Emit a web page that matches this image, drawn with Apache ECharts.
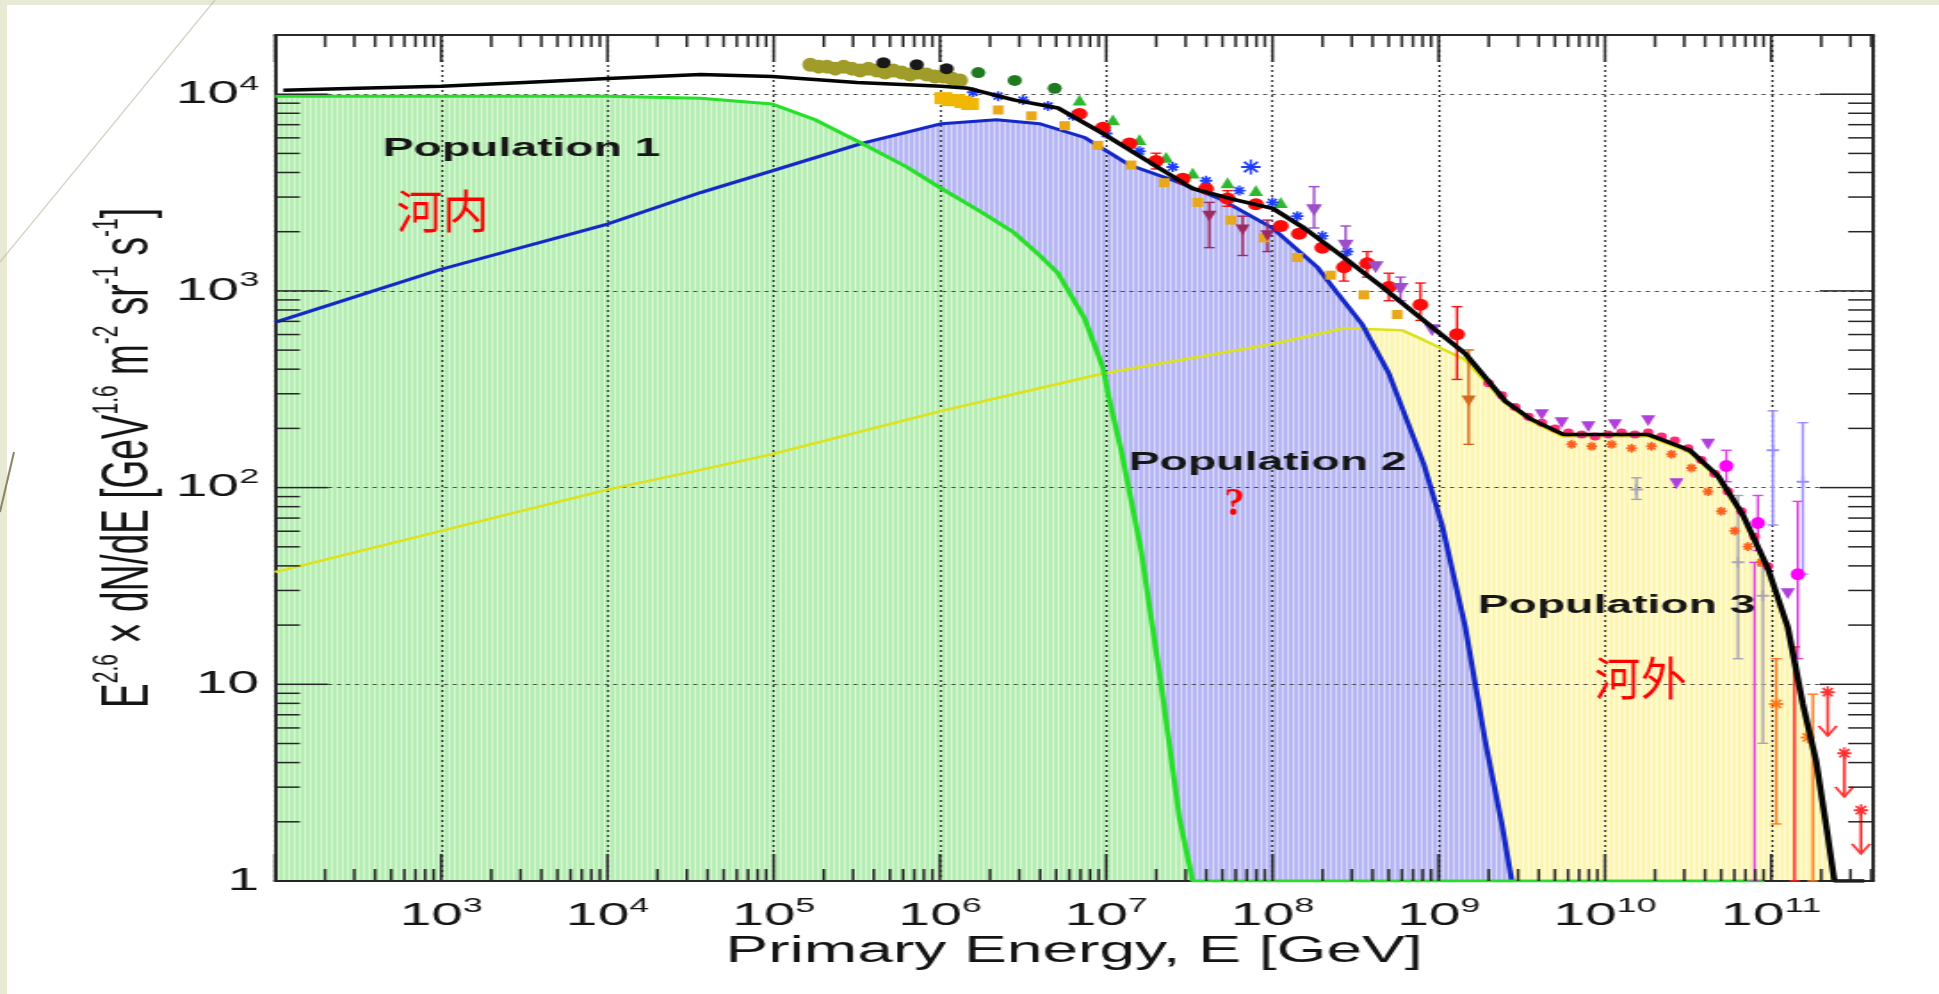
<!DOCTYPE html>
<html>
<head>
<meta charset="utf-8">
<title>Cosmic ray populations</title>
<script src="https://cdn.jsdelivr.net/npm/echarts@6.0.0/dist/echarts.min.js"></script>
<style>
  html, body { margin: 0; padding: 0; background: #e8ead5; overflow: hidden; }
  #sheet { position: absolute; left: 7px; top: 5px; width: 1932px; height: 989px; background: #fff; overflow: hidden; }
  /* the source figure is stretched sideways, so the chart is drawn narrow and widened */
  #chart { position: absolute; left: 0; top: 0; width: 1085px; height: 989px; transform: scaleX(1.7806); transform-origin: 0 0; }
  #deco { position: absolute; left: 0; top: 0; pointer-events: none; }
</style>
</head>
<body>
<div id="sheet"><div id="chart"></div></div>
<svg id="deco" width="1939" height="994">
  <line x1="215" y1="0" x2="0" y2="262" stroke="#b9b59c" stroke-width="1.5" opacity="0.55"/>
  <line x1="14" y1="452" x2="0" y2="512" stroke="#8c8464" stroke-width="2"/>
</svg>
<script>
// ---- data as log10(E / GeV) and log10(flux) ----
var pop1LogE = [2.0, 3.0, 4.0, 4.56, 4.99, 5.25, 5.53, 5.8, 6.01, 6.25, 6.44, 6.6, 6.71, 6.87, 6.98, 7.02, 7.09, 7.21, 7.33, 7.44, 7.52, 8.5, 9.5, 10.96];
var pop1LogF = [3.99, 3.99, 3.99, 3.98, 3.95, 3.87, 3.75, 3.63, 3.52, 3.40, 3.30, 3.18, 3.09, 2.86, 2.61, 2.44, 2.19, 1.68, 1.00, 0.32, 0.0, 0.0, 0.0, 0.0];

var pop2LogE = [2.0, 3.0, 4.0, 4.56, 4.99, 5.53, 6.01, 6.34, 6.60, 6.87, 7.14, 7.41, 7.68, 8.0, 8.27, 8.38, 8.54, 8.70, 8.91, 9.02, 9.16, 9.28, 9.38, 9.44];
var pop2LogF = [2.84, 3.11, 3.34, 3.50, 3.61, 3.75, 3.85, 3.87, 3.85, 3.78, 3.64, 3.56, 3.47, 3.32, 3.12, 3.0, 2.83, 2.58, 2.12, 1.81, 1.29, 0.71, 0.29, 0.0];

var pop3LogE = [2.0, 3.0, 4.0, 4.56, 4.99, 6.01, 6.98, 8.0, 8.43, 8.78, 8.91, 9.16, 9.40, 9.55, 9.75, 10.02, 10.26, 10.51, 10.68, 10.83, 10.98, 11.10, 11.19, 11.27, 11.34, 11.38];
var pop3LogF = [1.57, 1.78, 1.99, 2.09, 2.17, 2.39, 2.58, 2.73, 2.81, 2.80, 2.75, 2.65, 2.43, 2.34, 2.26, 2.26, 2.26, 2.18, 2.05, 1.85, 1.58, 1.28, 0.89, 0.60, 0.22, 0.0];

var totalLogE = [2.05, 2.5, 3.0, 3.5, 4.0, 4.56, 4.99, 5.5, 6.01, 6.17, 6.45, 6.71, 6.98, 7.25, 7.52, 7.79, 8.0, 8.19, 8.43, 8.66, 8.91, 9.16, 9.40, 9.55, 9.75, 10.02, 10.26, 10.51, 10.68, 10.83, 10.98, 11.10, 11.19, 11.27, 11.34, 11.38, 11.56];
var totalLogF = [4.02, 4.03, 4.04, 4.06, 4.08, 4.10, 4.09, 4.06, 4.04, 4.03, 3.97, 3.93, 3.80, 3.66, 3.52, 3.46, 3.42, 3.32, 3.17, 3.02, 2.85, 2.68, 2.44, 2.35, 2.27, 2.27, 2.27, 2.19, 2.06, 1.86, 1.59, 1.29, 0.90, 0.61, 0.23, 0.0, 0.0];

// measurements [log E, log F]
var oliveBand = [[5.22,4.15],[5.27,4.14],[5.32,4.14],[5.37,4.13],[5.42,4.14],[5.47,4.13],[5.52,4.12],[5.57,4.13],[5.62,4.12],[5.67,4.11],[5.72,4.12],[5.77,4.11],[5.82,4.10],[5.87,4.11],[5.92,4.10],[5.97,4.09],[6.02,4.09],[6.07,4.08],[6.12,4.07]];
var blackDots = [[5.66,4.16],[5.86,4.15],[6.04,4.13]];
var darkGreenDots = [[6.23,4.11],[6.45,4.07],[6.69,4.03]];
var goldBand = [[6.02,3.98],[6.06,3.97],[6.10,3.97],[6.14,3.96],[6.18,3.95]];
var orangeSquares = [[6.35,3.92],[6.55,3.89],[6.75,3.84],[6.95,3.74],[7.15,3.64],[7.35,3.55],[7.55,3.45],[7.75,3.36],[7.95,3.27],[8.15,3.17],[8.35,3.08],[8.55,2.98],[8.75,2.88]];
var greenTriangles = [[6.84,3.97],[7.04,3.87],[7.20,3.77],[7.36,3.68],[7.52,3.60],[7.73,3.55],[7.90,3.51],[8.05,3.45]];
var blueStars = [[6.2,4.01],[6.35,3.99],[6.5,3.97],[6.65,3.94],[6.8,3.89],[7.0,3.80],[7.2,3.71],[7.4,3.63],[7.6,3.56],[7.8,3.51],[8.0,3.45],[8.15,3.38],[8.3,3.28],[8.45,3.20]];
var blueBigStar = [[7.87,3.63]];
var redCircles = [[6.84,3.90],[6.98,3.83],[7.14,3.75],[7.30,3.66],[7.46,3.57],[7.60,3.52],[7.73,3.47],[7.90,3.44],[8.05,3.33],[8.16,3.29],[8.30,3.22],[8.43,3.12],[8.57,3.14],[8.70,3.02],[8.89,2.93],[9.11,2.78]];
var purpleDown = [[8.25,3.41],[8.44,3.23],[8.62,3.12],[8.77,3.01],[8.96,2.80]];
var maroonTri = [[7.62,3.38],[7.82,3.31],[7.97,3.28]];
var brownDown = [[9.18,2.44]];
var pinkPlateau = [[9.30,2.53],[9.38,2.47],[9.46,2.41],[9.54,2.36],[9.62,2.33],[9.70,2.30],[9.78,2.28],[9.86,2.27],[9.94,2.26],[10.02,2.27],[10.10,2.28],[10.18,2.27],[10.26,2.28],[10.34,2.26],[10.42,2.24],[10.50,2.20],[10.58,2.14],[10.66,2.07],[10.74,1.98],[10.82,1.88],[10.90,1.75],[10.98,1.60]];
var orangePlateau = [[9.80,2.22],[9.92,2.21],[10.04,2.22],[10.16,2.20],[10.28,2.21],[10.40,2.17],[10.52,2.10],[10.62,1.98],[10.70,1.88],[10.78,1.78],[10.86,1.70],[10.94,1.62]];
var violetTri = [[9.62,2.37],[9.74,2.33],[9.90,2.31],[10.06,2.32],[10.26,2.34],[10.43,2.02],[10.62,2.22],[11.10,1.46]];
var magentaDots = [[10.73,2.11],[10.92,1.82],[11.16,1.56]];
var lilacCross = [[11.01,2.19],[11.19,2.03]];
var greyCross = [[10.19,1.99],[10.80,1.62],[10.95,1.45]];
var orangeStars = [[11.03,0.90],[11.22,0.73]];
var upperLimits = [[11.34,0.96],[11.44,0.65],[11.54,0.36]];

// error bars [log E, log low, log high]
var redErr = [[7.30,3.62,3.70],[7.73,3.43,3.51],[8.43,3.05,3.18],[8.57,3.07,3.20],[8.70,2.95,3.09],[8.89,2.85,3.04],[9.11,2.55,2.92]];
var purpleErr = [[8.25,3.32,3.53],[8.44,3.15,3.33],[8.77,2.95,3.07]];
var maroonErr = [[7.62,3.22,3.45],[7.82,3.18,3.38],[7.97,3.20,3.36]];
var brownErr = [[9.18,2.22,2.70]];
var magentaErr = [[10.73,2.03,2.19],[10.92,1.68,1.96],[11.16,1.13,1.93],[10.90,0.0,1.62]];
var lilacErr = [[11.01,1.81,2.39],[11.19,1.56,2.33]];
var greyErr = [[10.19,1.94,2.05],[10.80,1.13,1.96],[10.95,0.70,1.60]];
var orangeErr = [[11.03,0.29,1.13],[11.25,0.0,0.95]];
var redLongErr = [[11.14,0.0,1.19]];

// axes
var xMin = 1e2, xMax = 4.1e11, yMin = 1, yMax = 2e4;
var xMajor = [1e2, 1e3, 1e4, 1e5, 1e6, 1e7, 1e8, 1e9, 1e10, 1e11];
var xLabels = [1e3, 1e4, 1e5, 1e6, 1e7, 1e8, 1e9, 1e10, 1e11];
var yMajor = [1, 10, 100, 1000, 10000];
var yLabels = [1, 10, 100, 1000, 10000];

var S = 1.7806;   // sideways stretch
var FONT = '"Liberation Sans", Arial, Helvetica, sans-serif';

function minorTicks(lo, hi) {
  var out = [];
  for (var d = Math.floor(Math.log10(lo)); d <= Math.ceil(Math.log10(hi)); d++) {
    for (var k = 2; k <= 9; k++) {
      var v = k * Math.pow(10, d);
      if (v > lo && v < hi) out.push(v);
    }
  }
  return out;
}
var xMinor = minorTicks(xMin, xMax);
var yMinor = minorTicks(yMin, yMax);

var p10 = function (v) { return Math.pow(10, v); };
function curve(le, lf) { return le.map(function (e, i) { return [p10(e), p10(lf[i])]; }); }
function pts(a) { return a.map(function (p) { return [p10(p[0]), p10(p[1])]; }); }
function bars(a) { return a.map(function (p) { return [p10(p[0]), p10(p[1]), p10(p[2])]; }); }

function stripe(base, light) {
  var c = document.createElement('canvas');
  c.width = 3; c.height = 2;
  var g = c.getContext('2d');
  g.fillStyle = base; g.fillRect(0, 0, 3, 2);
  g.fillStyle = light; g.fillRect(2, 0, 1, 2);
  return { image: c, repeat: 'repeat' };
}

var supRich = {
  b: { fontSize: 32, lineHeight: 40, color: '#141414', fontFamily: FONT },
  e: { fontSize: 20, lineHeight: 16, verticalAlign: 'top', color: '#141414', fontFamily: FONT }
};
function xFmt(v) { return '{b|10}{e|' + Math.round(Math.log10(v)) + '}'; }
function yFmt(v) { return v < 50 ? '{b|' + Math.round(v) + '}' : '{b|10}{e|' + Math.round(Math.log10(v)) + '}'; }

function frame() { return { show: true, onZero: false, lineStyle: { color: '#2a2a2a', width: 2 } }; }

function xAxis(pos, main) {
  return {
    type: 'log', logBase: 10, min: xMin, max: xMax, position: pos, z: 3,
    axisLine: frame(),
    axisTick: { show: false },
    minorTick: { show: false },
    axisLabel: main ? { show: true, customValues: xLabels, margin: 15, formatter: xFmt, rich: supRich } : { show: false },
    splitLine: main ? { show: true, lineStyle: { type: [2, 3], color: '#333', width: 1.2 } } : { show: false },
    name: main ? 'Primary Energy, E [GeV]' : '',
    nameLocation: 'middle', nameGap: 53, nameMoveOverlap: false,
    nameTextStyle: { fontSize: 36, color: '#141414', fontFamily: FONT }
  };
}
function yAxis(pos, main) {
  return {
    type: 'log', logBase: 10, min: yMin, max: yMax, position: pos, z: 3,
    axisLine: frame(),
    axisTick: { show: false },
    minorTick: { show: false },
    axisLabel: main ? { show: true, customValues: yLabels, margin: 9, formatter: yFmt, rich: supRich } : { show: false },
    splitLine: main ? { show: true, lineStyle: { type: [2, 3], color: '#333', width: 1.2 } } : { show: false },
    name: main ? '{n|E}{s|2.6}{n| × dN/dE [GeV}{s|1.6}{n| m}{s|-2}{n| sr}{s|-1}{n| s}{s|-1}{n|]}' : '',
    nameLocation: 'middle', nameRotate: 90, nameGap: 59, nameMoveOverlap: false,
    nameTextStyle: {
      color: '#141414',
      rich: {
        n: { fontSize: 37, lineHeight: 46, color: '#141414', fontFamily: FONT },
        s: { fontSize: 21, lineHeight: 18, verticalAlign: 'top', color: '#141414', fontFamily: FONT }
      }
    }
  };
}

function area(le, lf, base, light) {
  return { type: 'line', data: curve(le, lf), symbol: 'none', silent: true, z: 1,
    lineStyle: { width: 0 }, areaStyle: { color: stripe(base, light), opacity: 1, origin: 'start' } };
}
function line(le, lf, color, w, z) {
  return { type: 'line', data: curve(le, lf), symbol: 'none', silent: true, z: z || 4,
    lineStyle: { color: color, width: w } };
}
function dots(data, color, symbol, size, rot) {
  return { type: 'scatter', data: pts(data), symbol: symbol, symbolSize: size, symbolRotate: rot || 0, z: 6, silent: true,
    itemStyle: { color: color, opacity: 1 } };
}
function strokes(data, color, path, size) {
  return { type: 'scatter', data: pts(data), symbol: path, symbolSize: size, z: 6, silent: true,
    itemStyle: { color: 'rgba(0,0,0,0)', borderColor: color, borderWidth: 1.6, opacity: 1 } };
}
function errBars(data, color) {
  return {
    type: 'custom', data: bars(data), z: 5, silent: true, encode: { x: 0, y: [1, 2] },
    renderItem: function (params, api) {
      var a = api.coord([api.value(0), api.value(1)]);
      var b = api.coord([api.value(0), api.value(2)]);
      var st = { stroke: color, lineWidth: 1.4, fill: 'none' };
      return { type: 'group', children: [
        { type: 'line', shape: { x1: a[0], y1: a[1], x2: b[0], y2: b[1] }, style: st },
        { type: 'line', shape: { x1: a[0] - 3, y1: a[1], x2: a[0] + 3, y2: a[1] }, style: st },
        { type: 'line', shape: { x1: b[0] - 3, y1: b[1], x2: b[0] + 3, y2: b[1] }, style: st }
      ] };
    }
  };
}
function limits(data, color) {
  return {
    type: 'custom', data: pts(data), z: 5, silent: true, encode: { x: 0, y: 1 },
    renderItem: function (params, api) {
      var a = api.coord([api.value(0), api.value(1)]);
      var b = api.coord([api.value(0), api.value(1) * 0.6]);
      var st = { stroke: color, lineWidth: 1.6, fill: 'none' };
      return { type: 'group', children: [
        { type: 'line', shape: { x1: a[0], y1: a[1], x2: b[0], y2: b[1] }, style: st },
        { type: 'polyline', shape: { points: [[b[0] - 5, b[1] - 10], [b[0], b[1]], [b[0] + 5, b[1] - 10]] }, style: st }
      ] };
    }
  };
}

var STAR = 'path://M0,-10L0,10M-10,0L10,0M-7,-7L7,7M-7,7L7,-7';
var PLUS = 'path://M0,-10L0,10M-10,0L10,0';

var labels = [
  { type: 'text', x: 211, y: 144, z: 20, silent: true,
    style: { text: 'Population 1', fontSize: 26, fontWeight: 'bold', fontFamily: FONT, fill: '#161616', align: 'left', verticalAlign: 'middle' } },
  { type: 'text', x: 630, y: 458, z: 20, silent: true,
    style: { text: 'Population 2', fontSize: 26, fontWeight: 'bold', fontFamily: FONT, fill: '#161616', align: 'left', verticalAlign: 'middle' } },
  { type: 'text', x: 826, y: 601, z: 20, silent: true,
    style: { text: 'Population 3', fontSize: 26, fontWeight: 'bold', fontFamily: FONT, fill: '#161616', align: 'left', verticalAlign: 'middle' } },
  { type: 'text', x: 244.7, y: 206, scaleX: 1 / S, z: 20, silent: true,
    style: { text: '河内', fontSize: 46, fontFamily: '"Noto Sans CJK SC", sans-serif', fill: '#ff0000', align: 'center', verticalAlign: 'middle' } },
  { type: 'text', x: 917.4, y: 673, scaleX: 1 / S, z: 20, silent: true,
    style: { text: '河外', fontSize: 46, fontFamily: '"Noto Sans CJK SC", sans-serif', fill: '#ff0000', align: 'center', verticalAlign: 'middle' } },
  { type: 'text', x: 689.3, y: 500, scaleX: 1 / S, z: 20, silent: true,
    style: { text: '?', fontSize: 40, fontWeight: 'bold', fontFamily: '"Liberation Serif", "DejaVu Serif", serif', fill: '#ff0000', align: 'center', verticalAlign: 'middle' } }
];

var chart = echarts.init(document.getElementById('chart'), null, { renderer: 'canvas' });
chart.setOption({
  animation: false,
  backgroundColor: '#ffffff',
  grid: { left: 150.5, right: 37, top: 30, bottom: 113, containLabel: false, outerBoundsMode: 'none' },
  xAxis: [xAxis('bottom', true), xAxis('top', false)],
  yAxis: [yAxis('left', true), yAxis('right', false)],
  series: [
    area(pop3LogE, pop3LogF, '#fcf6b2', '#fffbd9'),
    area(pop2LogE, pop2LogF, '#b6b6f2', '#d8d8fa'),
    area(pop1LogE, pop1LogF, '#b5eeb2', '#d8f7d5'),
    line(pop3LogE, pop3LogF, '#dde21c', 2.5),
    line(pop2LogE, pop2LogF, '#1428c8', 3),
    line(pop1LogE, pop1LogF, '#26df29', 3),

    errBars(redErr, '#ff1010'),
    errBars(purpleErr, '#9b4dca'),
    errBars(maroonErr, '#a02860'),
    errBars(brownErr, '#d2691e'),
    errBars(magentaErr, '#e040e0'),
    errBars(lilacErr, '#9a8cff'),
    errBars(greyErr, '#a9a4b8'),
    errBars(orangeErr, '#ff7a1a'),
    errBars(redLongErr, '#ff2020'),
    limits(upperLimits, '#ff3030'),

    dots(oliveBand, '#a09c2a', 'circle', [9, 14]),
    dots(goldBand, '#f2b705', 'rect', [10, 12]),
    dots(orangeSquares, '#e8a81a', 'rect', [6, 9]),
    dots(blackDots, '#181818', 'circle', [8, 11]),
    dots(darkGreenDots, '#1f7a1f', 'circle', [8, 11]),
    dots(greenTriangles, '#2db82d', 'triangle', [8, 11]),
    strokes(blueStars, '#1f3dff', STAR, [7, 10]),
    strokes(blueBigStar, '#1f3dff', STAR, [11, 15]),
    dots(maroonTri, '#a02860', 'triangle', [8, 11], 180),
    dots(redCircles, '#ff0a0a', 'circle', [9, 12]),
    dots(purpleDown, '#9b4dca', 'triangle', [9, 12], 180),
    dots(brownDown, '#d2691e', 'triangle', [8, 11], 180),
    dots(pinkPlateau, '#ff2a7a', 'circle', [6, 8]),
    strokes(orangePlateau, '#ff6020', STAR, [6, 9]),
    dots(violetTri, '#b03fe0', 'triangle', [8, 11], 180),
    dots(magentaDots, '#ff00ff', 'circle', [8, 12]),
    strokes(lilacCross, '#9a8cff', PLUS, [7, 11]),
    strokes(greyCross, '#a9a4b8', PLUS, [7, 11]),
    strokes(orangeStars, '#ff7a1a', STAR, [8, 12]),
    strokes(upperLimits, '#ff3030', STAR, [8, 12]),

    line(totalLogE, totalLogF, '#050505', 3.5, 7)
  ],
  graphic: labels
});

// tick marks on all four sides of the frame, placed with the chart's own axis scales
var ticks = [];
var finder = { xAxisIndex: 0, yAxisIndex: 0 };
function tick(x1, y1, x2, y2) {
  ticks.push({ type: 'line', z: 50, silent: true, shape: { x1: x1, y1: y1, x2: x2, y2: y2 },
    style: { stroke: '#262626', lineWidth: 1.5 } });
}
function xTicks(values, len) {
  values.forEach(function (v) {
    var b = chart.convertToPixel(finder, [v, yMin]);
    var t = chart.convertToPixel(finder, [v, yMax]);
    tick(b[0], b[1], b[0], b[1] - len);
    tick(t[0], t[1], t[0], t[1] + len);
  });
}
function yTicks(values, len) {
  values.forEach(function (v) {
    var l = chart.convertToPixel(finder, [xMin, v]);
    var r = chart.convertToPixel(finder, [xMax, v]);
    tick(l[0], l[1], l[0] + len, l[1]);
    tick(r[0], r[1], r[0] - len, r[1]);
  });
}
xTicks(xMajor, 27);
xTicks(xMinor, 12);
yTicks(yMajor, 30);
yTicks(yMinor, 14);
chart.setOption({ graphic: labels.concat(ticks) });
</script>
</body>
</html>
